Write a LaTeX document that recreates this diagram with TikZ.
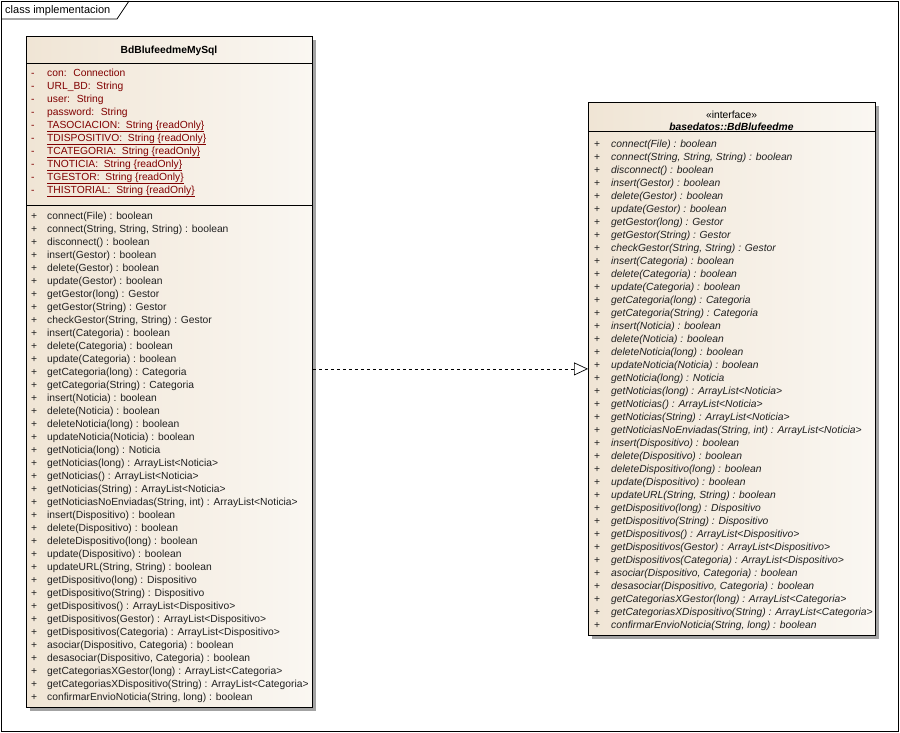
\documentclass[tikz,border=0pt]{standalone}
\usepackage{fontspec}
\setmainfont{Liberation Sans}
\usetikzlibrary{arrows.meta}
\definecolor{boxleft}{HTML}{F0E5D5}
\definecolor{boxright}{HTML}{FAF7F2}
\definecolor{shadowgray}{HTML}{A3A3A3}
\definecolor{attrred}{HTML}{800000}
\definecolor{optext}{HTML}{202020}
\newcommand{\umlfont}{\fontsize{10.3}{12}\selectfont}
\tikzset{
  txt/.style={inner sep=0pt, anchor=mid west, font=\umlfont},
  classbox/.style={draw=black, line width=0.8pt, left color=boxleft, right color=boxright, anchor=north west, inner sep=0pt},
  shadowbox/.style={fill=shadowgray, draw=none, anchor=north west, inner sep=0pt},
  sep/.style={line width=0.8pt},
  realize/.style={dashed, line width=0.7pt, -{Triangle[open, length=14pt, width=13pt]}}
}
\begin{document}
\begin{tikzpicture}[x=1pt,y=-1pt]
\useasboundingbox (0,0) rectangle (900,733);
% frame
\draw[line width=0.8pt] (1,1) rectangle (898,731);
\draw[line width=0.8pt] (1,19) -- (117,19) -- (129,1);
\node[txt, font=\fontsize{11}{13}\selectfont] (frametitle) at (5,11) {class implementacion};

% left class
\node[shadowbox, minimum width=286pt, minimum height=671pt] (implshadow) at (30,40) {};
\node[classbox, minimum width=286pt, minimum height=671pt] (impl) at (26,36) {};
\draw[sep] (26,63) -- (312,63);
\draw[sep] (26,205) -- (312,205);
\node[inner sep=0pt, font=\umlfont\bfseries] (impltitle) at (169,51) {BdBlufeedmeMySql};
\foreach \t [count=\i from 0] in {con:~ Connection, URL\_BD:~ String, user:~ String, password:~ String}{
  \node[txt, text=attrred] (la\i) at (31,{73.5+13*\i}) {-};
  \node[txt, text=attrred] (lan\i) at (47,{73.5+13*\i}) {\t};
}
\foreach \t [count=\i from 4] in {TASOCIACION, TDISPOSITIVO, TCATEGORIA, TNOTICIA, TGESTOR, THISTORIAL}{
  \node[txt, text=attrred] (la\i) at (31,{73.5+13*\i}) {-};
  \node[txt, text=attrred] (lan\i) at (47,{73.5+13*\i}) {\underline{\t:~ String \{readOnly\}}};
}
\foreach \t [count=\i from 0] in {
connect(File) : boolean,
{connect(String, String, String) : boolean},
disconnect() : boolean,
insert(Gestor) : boolean,
delete(Gestor) : boolean,
update(Gestor) : boolean,
getGestor(long) : Gestor,
getGestor(String) : Gestor,
{checkGestor(String, String) : Gestor},
insert(Categoria) : boolean,
delete(Categoria) : boolean,
update(Categoria) : boolean,
getCategoria(long) : Categoria,
getCategoria(String) : Categoria,
insert(Noticia) : boolean,
delete(Noticia) : boolean,
deleteNoticia(long) : boolean,
updateNoticia(Noticia) : boolean,
getNoticia(long) : Noticia,
getNoticias(long) : ArrayList<Noticia>,
getNoticias() : ArrayList<Noticia>,
getNoticias(String) : ArrayList<Noticia>,
{getNoticiasNoEnviadas(String, int) : ArrayList<Noticia>},
insert(Dispositivo) : boolean,
delete(Dispositivo) : boolean,
deleteDispositivo(long) : boolean,
update(Dispositivo) : boolean,
{updateURL(String, String) : boolean},
getDispositivo(long) : Dispositivo,
getDispositivo(String) : Dispositivo,
getDispositivos() : ArrayList<Dispositivo>,
getDispositivos(Gestor) : ArrayList<Dispositivo>,
getDispositivos(Categoria) : ArrayList<Dispositivo>,
{asociar(Dispositivo, Categoria) : boolean},
{desasociar(Dispositivo, Categoria) : boolean},
getCategoriasXGestor(long) : ArrayList<Categoria>,
getCategoriasXDispositivo(String) : ArrayList<Categoria>,
{confirmarEnvioNoticia(String, long) : boolean}}{
  \node[txt, text=optext] (lp\i) at (31,{216.5+13*\i}) {+};
  \node[txt, text=optext] (lo\i) at (47,{216.5+13*\i}) {\t};
}

% right interface
\node[shadowbox, minimum width=287pt, minimum height=533pt] (ifaceshadow) at (592,106) {};
\node[classbox, minimum width=287pt, minimum height=533pt] (iface) at (588,102) {};
\draw[sep] (588,131) -- (875,131);
\node[inner sep=0pt, font=\umlfont] (stereo) at (731.5,115) {«interface»};
\node[inner sep=0pt, font=\umlfont\bfseries\itshape] (ifacetitle) at (731.5,127) {basedatos::BdBlufeedme};
\foreach \t [count=\i from 0] in {
connect(File) : boolean,
{connect(String, String, String) : boolean},
disconnect() : boolean,
insert(Gestor) : boolean,
delete(Gestor) : boolean,
update(Gestor) : boolean,
getGestor(long) : Gestor,
getGestor(String) : Gestor,
{checkGestor(String, String) : Gestor},
insert(Categoria) : boolean,
delete(Categoria) : boolean,
update(Categoria) : boolean,
getCategoria(long) : Categoria,
getCategoria(String) : Categoria,
insert(Noticia) : boolean,
delete(Noticia) : boolean,
deleteNoticia(long) : boolean,
updateNoticia(Noticia) : boolean,
getNoticia(long) : Noticia,
getNoticias(long) : ArrayList<Noticia>,
getNoticias() : ArrayList<Noticia>,
getNoticias(String) : ArrayList<Noticia>,
{getNoticiasNoEnviadas(String, int) : ArrayList<Noticia>},
insert(Dispositivo) : boolean,
delete(Dispositivo) : boolean,
deleteDispositivo(long) : boolean,
update(Dispositivo) : boolean,
{updateURL(String, String) : boolean},
getDispositivo(long) : Dispositivo,
getDispositivo(String) : Dispositivo,
getDispositivos() : ArrayList<Dispositivo>,
getDispositivos(Gestor) : ArrayList<Dispositivo>,
getDispositivos(Categoria) : ArrayList<Dispositivo>,
{asociar(Dispositivo, Categoria) : boolean},
{desasociar(Dispositivo, Categoria) : boolean},
getCategoriasXGestor(long) : ArrayList<Categoria>,
getCategoriasXDispositivo(String) : ArrayList<Categoria>,
{confirmarEnvioNoticia(String, long) : boolean}}{
  \node[txt, text=optext] (rp\i) at (594,{144.5+13*\i}) {+};
  \node[txt, text=optext, font=\umlfont\itshape] (ro\i) at (611,{144.5+13*\i}) {\t};
}

% realization
\draw[realize] (impl.east |- iface.west) -- (iface.west);
\end{tikzpicture}
\end{document}
